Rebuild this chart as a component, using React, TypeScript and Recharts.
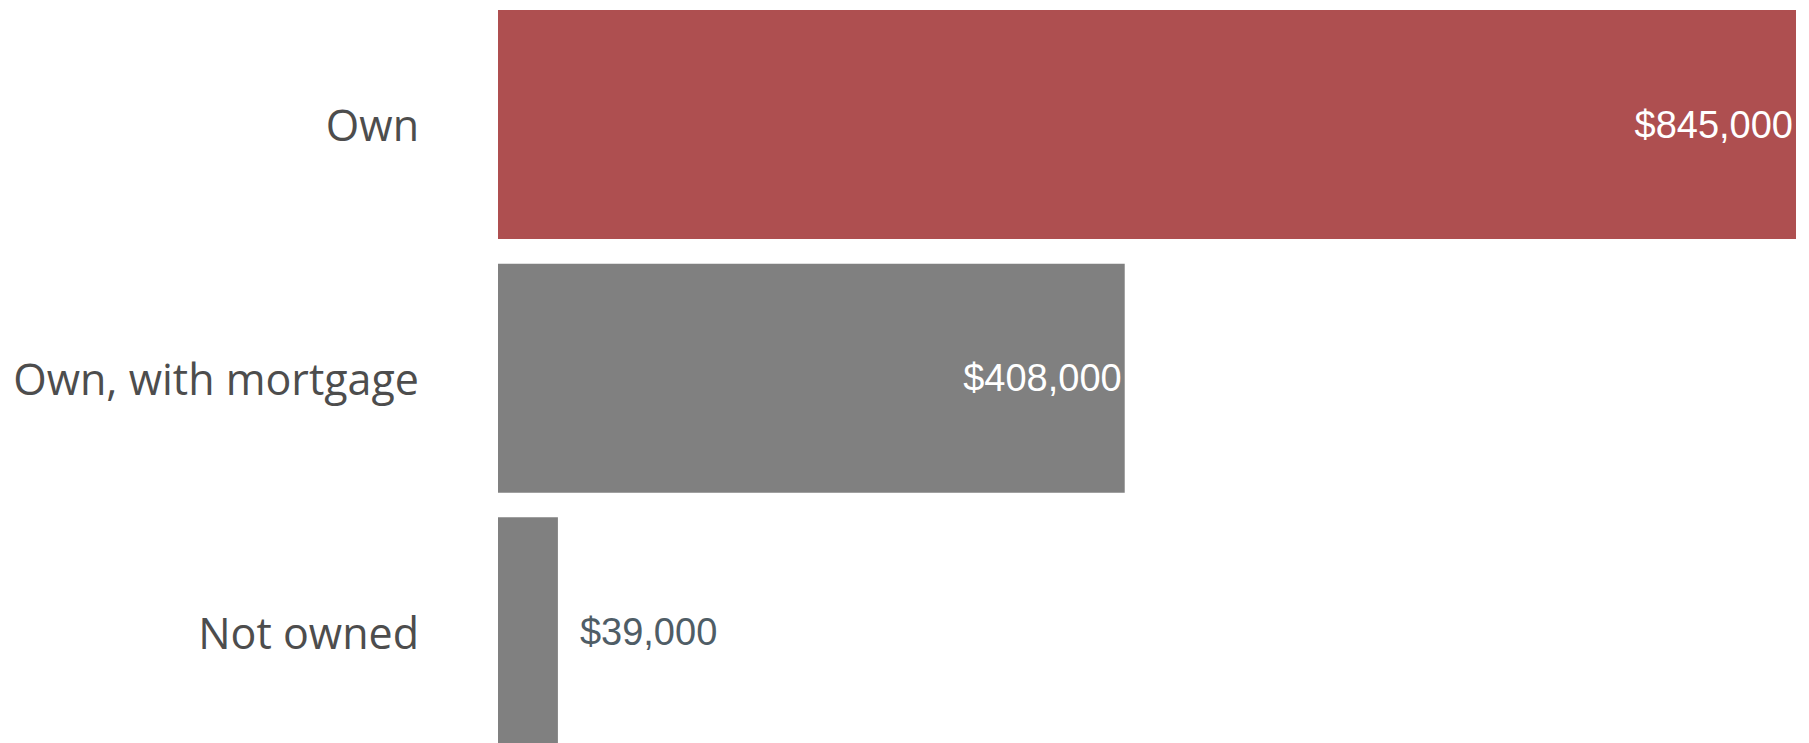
import React from 'react';
import { BarChart, Bar, XAxis, YAxis, Cell, LabelList } from 'recharts';

const categories = ['Own', 'Own, with mortgage', 'Not owned'];
const values = [845000, 408000, 39000];
const barColors = ['#ae4f50', '#808080', '#808080'];

const data = categories.map((name, i) => ({ name, value: values[i] }));

const fmt = (v: number) => '$' + v.toLocaleString('en-US');

// category labels sit to the left of the bars, right-aligned
const CategoryTick = (props: any) => {
  const { x, y, payload } = props;
  return (
    <text
      x={x - 71}
      y={y}
      textAnchor="end"
      dominantBaseline="central"
      fontFamily="'Open Sans', sans-serif"
      fontSize={43}
      fill="#4d4d4d"
    >
      {payload.value}
    </text>
  );
};

// big bars get their value inside in white, short ones outside
const ValueLabel = (props: any) => {
  const { x, y, width, height, value } = props;
  const inside = width > 200;
  return (
    <text
      x={inside ? x + width - 3 : x + width + 22}
      y={y + height / 2}
      textAnchor={inside ? 'end' : 'start'}
      dominantBaseline="central"
      fontFamily="'Liberation Sans', Arial, sans-serif"
      fontSize={38}
      fill={inside ? '#ffffff' : '#4f5d66'}
    >
      {fmt(value)}
    </text>
  );
};

export default function App() {
  return (
    <div style={{ position: 'absolute', left: 0, top: -2 }}>
      <BarChart
        width={1809}
        height={761}
        data={data}
        layout="vertical"
        margin={{ top: 0, right: 13, bottom: 0, left: 0 }}
        barSize={229}
      >
        <XAxis type="number" domain={[0, 845000]} hide />
        <YAxis
          type="category"
          dataKey="name"
          width={498}
          axisLine={false}
          tickLine={false}
          tick={<CategoryTick />}
        />
        <Bar dataKey="value" isAnimationActive={false}>
          {data.map((d, i) => (
            <Cell key={d.name} fill={barColors[i]} />
          ))}
          <LabelList dataKey="value" content={<ValueLabel />} />
        </Bar>
      </BarChart>
    </div>
  );
}
